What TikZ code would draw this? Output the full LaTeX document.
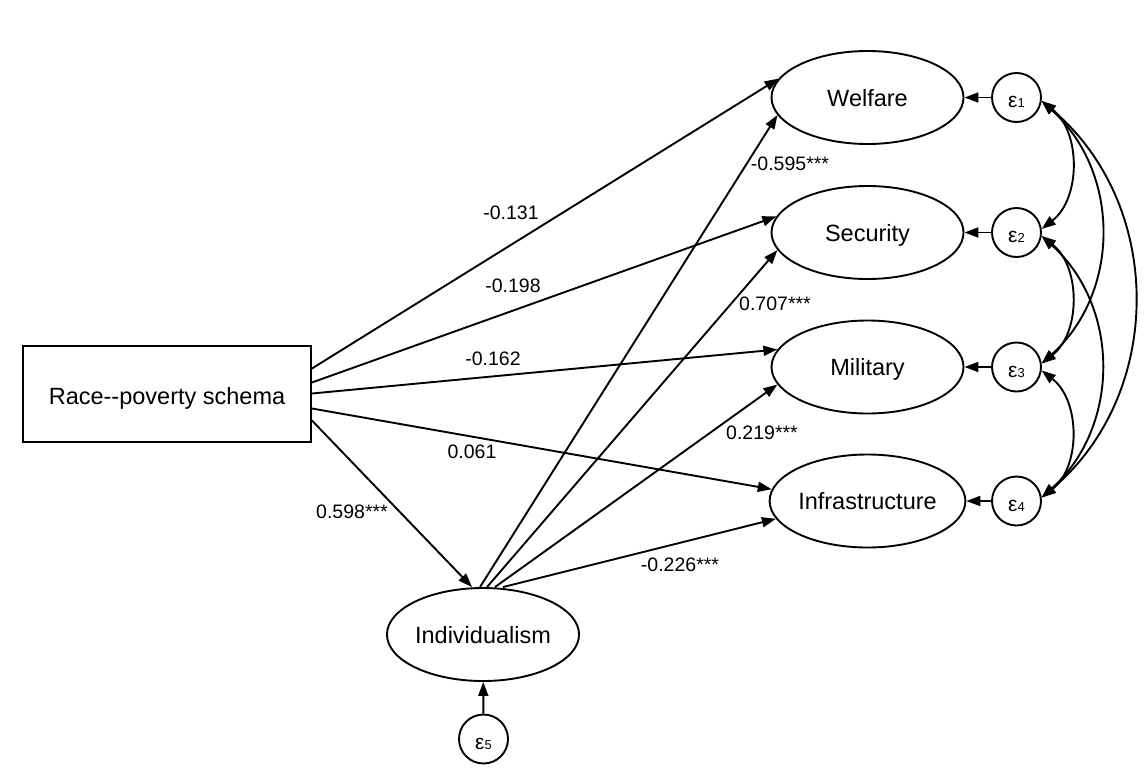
\documentclass[tikz,border=0pt]{standalone}
\usepackage{fontspec}
\setmainfont{Liberation Sans}
\usetikzlibrary{arrows.meta,shapes.geometric}
\newcommand\epsl[1]{{\fontsize{21}{24}\selectfont ε}{\fontsize{13}{15}\selectfont #1}}
\begin{document}
\begin{tikzpicture}[x=1pt,y=-1pt,
  every node/.style={inner sep=0pt},
  lat/.style={draw, line width=1.9pt, ellipse, minimum width=192pt, minimum height=93pt, font=\fontsize{23.5}{28}\selectfont, text depth=0pt},
  obs/.style={draw, line width=1.9pt, rectangle, minimum width=288pt, minimum height=96pt, font=\fontsize{23.5}{28}\selectfont, text height=21pt, text depth=0pt},
  err/.style={draw, line width=1.9pt, circle, minimum size=49pt, text height=20pt, text depth=0pt},
  coef/.style={font=\fontsize{19.5}{23}\selectfont},
  arr/.style={line width=1.9pt, -{Triangle[length=14pt,width=10pt]}},
  cov/.style={line width=1.9pt, {Triangle[length=14pt,width=10pt]}-{Triangle[length=14pt,width=10pt]}},
]
\useasboundingbox (0,0) rectangle (1148,774);

\node[obs] (race) at (167,394) {Race-\kern0pt-poverty schema};
\node[lat] (wel) at (867.5,97.5) {Welfare};
\node[lat] (sec) at (867.5,232.5) {Security};
\node[lat] (mil) at (867.5,367) {Military};
\node[lat] (inf) at (867.5,501) {Infrastructure};
\node[lat] (ind) at (483,634.5) {Individualism};

\node[err] (e1) at (1016.5,97.5) {\epsl{1}};
\node[err] (e2) at (1016.5,232.5) {\epsl{2}};
\node[err] (e3) at (1016.5,367) {\epsl{3}};
\node[err] (e4) at (1016.5,501) {\epsl{4}};
\node[err] (e5) at (483.5,739) {\epsl{5}};

\draw[arr] ([yshift=25.5pt]race.east) -- (wel.168);
\draw[arr] ([yshift=11.5pt]race.east) -- (sec.170);
\draw[arr] ([yshift=0.5pt]race.east) -- (mil.169);
\draw[arr] ([yshift=-14.5pt]race.east) -- (inf.173);
\draw[arr] ([yshift=-26.5pt]race.east) -- ([xshift=-11pt]ind.north);

\draw[arr] ([xshift=-3pt]ind.north) -- (wel.191);
\draw[arr] ([xshift=4pt]ind.north) -- (sec.191);
\draw[arr] ([xshift=12pt]ind.north) -- (mil.191);
\draw[arr] ([xshift=20pt]ind.north) -- (inf.191);

\draw[arr] (e1) -- (wel);
\draw[arr] (e2) -- (sec);
\draw[arr] (e3) -- (mil);
\draw[arr] (e4) -- (inf);
\draw[arr] (e5) -- (ind);

\draw[cov] (e1.-8) to[bend left=52] (e2.8);
\draw[cov] (e1.-8) to[bend left=48, looseness=1.04] (e3.8);
\draw[cov] (e1.-8) to[bend left=50, looseness=1.04] (e4.8);
\draw[cov] (e2.-8) to[bend left=52] (e3.8);
\draw[cov] (e2.-8) to[bend left=48, looseness=1.04] (e4.8);
\draw[cov] (e3.-8) to[bend left=52] (e4.8);

\node[coef] (c1) at (511,213) {-0.131};
\node[coef] (c2) at (513,286) {-0.198};
\node[coef] (c3) at (493,359) {-0.162};
\node[coef] (c4) at (472,452) {0.061};
\node[coef] (c5) at (352,512) {0.598***};
\node[coef] (c6) at (790,164) {-0.595***};
\node[coef] (c7) at (775,304) {0.707***};
\node[coef] (c8) at (762,433) {0.219***};
\node[coef] (c9) at (680,565) {-0.226***};
\end{tikzpicture}
\end{document}
